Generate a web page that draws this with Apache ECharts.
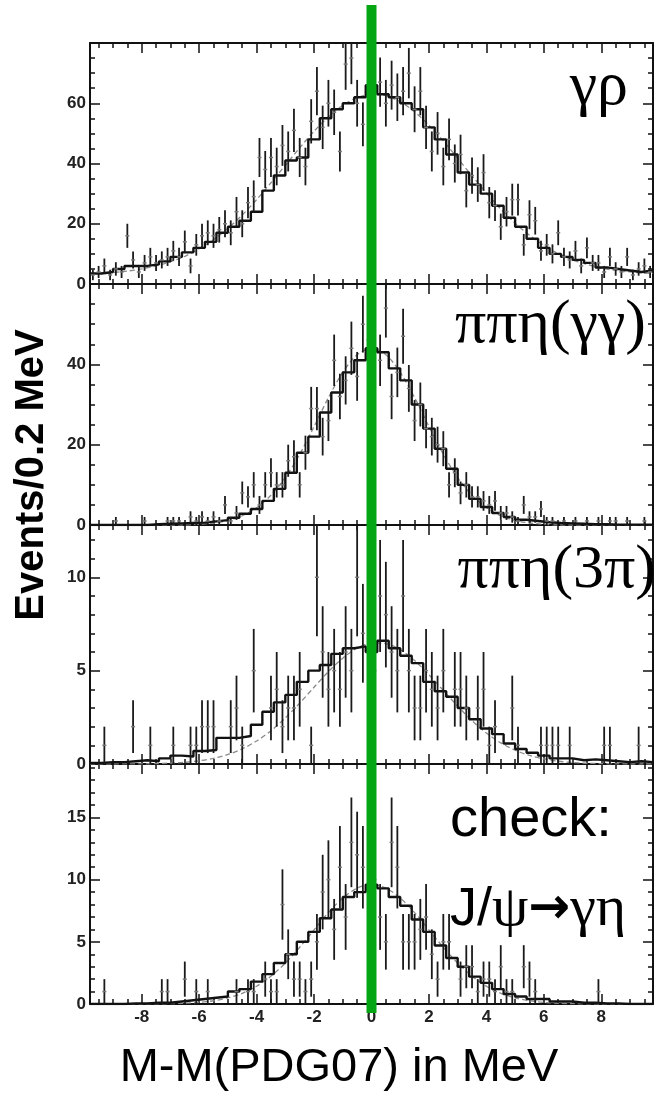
<!DOCTYPE html>
<html>
<head>
<meta charset="utf-8">
<title>M-M(PDG07) in MeV</title>
<script src="https://cdn.jsdelivr.net/npm/echarts@6/dist/echarts.min.js"></script>
<style>
  html, body { margin: 0; padding: 0; background: #fff; }
  #chart { width: 654px; height: 1095px; }
</style>
</head>
<body>
<div id="chart"></div>
<script>
// x range shared by the four panels (MeV)
const xMin = -9.8, xMax = 9.8;
// data: 0.2 MeV bins, histogram: 0.4 MeV bins, both starting at -9.8
const dataBinStart = -9.8, dataBinWidth = 0.2;
const histBinStart = -9.8, histBinWidth = 0.4;

const xTickLabels = [-8, -6, -4, -2, 0, 2, 4, 6, 8];
const xMinorTicks = [-9.5, -9, -8.5, -7.5, -7, -6.5, -5.5, -5, -4.5, -3.5, -3, -2.5, -1.5, -1, -0.5,
                     0.5, 1, 1.5, 2.5, 3, 3.5, 4.5, 5, 5.5, 6.5, 7, 7.5, 8.5, 9, 9.5];

// y axes, one entry per panel (top to bottom)
const yMaxes = [80, 60, 12.8, 19.3];
const yTickLabels = [[0, 20, 40, 60], [0, 20, 40], [0, 5, 10], [0, 5, 10, 15]];
const yMajorTicks = [[20, 40, 60], [20, 40], [5, 10], [5, 10, 15]];
const yMinorTicks = [
  [5, 10, 15, 25, 30, 35, 45, 50, 55, 65, 70, 75],
  [5, 10, 15, 25, 30, 35, 45, 50, 55],
  [1, 2, 3, 4, 6, 7, 8, 9, 11, 12],
  [1, 2, 3, 4, 6, 7, 8, 9, 11, 12, 13, 14, 16, 17, 18, 19]
];

// events per 0.2 MeV bin, centres -9.7 ... 9.7
const dataGammaRho = [3,4,6,3,5,4,16,8,4,7, 9,7,8,9,11,9,14,6,13,16, 17,16,18,20,17,24,20,27,29,42,
  38,42,39,46,44,51,42,39,54,64, 52,60,57,44,73,75,60,53,66,63, 67,60,66,62,64,70,58,64,52,44,
  50,39,48,40,43,31,36,33,37,27, 26,19,24,28,28,13,23,21,11,13, 10,17,9,8,11,6,12,7,7,4, 9,5,4,9,3,5,6,4];
const dataEtaGG = [0,0,0,0,1,0,0,0,0,1, 0,0,0,1,1,1,0,2,1,2, 1,2,1,5,1,3,8,7,10,5,
  10,13,10,10,16,17,10,18,29,29, 22,26,41,32,36,44,37,50,46,44, 41,54,32,38,47,34,26,30,24,22,
  20,19,10,13,8,10,7,7,6,5, 6,3,3,2,1,5,2,2,4,1, 1,0,1,0,1,0,1,0,1,0, 1,1,0,1,0,0,1,0];
const dataEta3Pi = [0,0,1,0,0,0,0,2,0,0, 1,0,0,0,1,0,0,1,1,2, 2,2,0,0,2,3,1,0,5,0,
  0,3,4,2,3,3,4,0,1,10, 6,4,5,4,6,5,10,7,6,5, 9,8,6,5,9,5,3,3,5,4,
  3,5,0,4,4,3,0,3,4,1, 2,0,0,3,1,0,0,0,1,1, 1,1,0,1,0,0,0,0,0,1, 1,0,0,0,0,1,0,0];
const dataJpsi = [0,0,1,0,0,0,0,0,0,0, 0,0,1,1,0,0,2,0,1,0, 1,0,0,0,0,1,0,1,1,0,
  2,1,1,8,4,2,2,1,2,5, 9,10,6,11,7,13,12,11,9,10, 7,5,13,11,5,5,5,6,7,4,
  2,5,5,0,2,3,3,1,2,2, 1,3,1,1,0,3,2,1,0,0, 0,0,0,0,0,0,0,0,1,0, 0,0,0,0,0,0,0,0];

// MC histogram per 0.4 MeV bin, centres -9.6 ... 9.6
const histGammaRho = [3.5,4,5,6,6,6.5,7.5,9,10.5,12,14,17,19,21,24,31,36,41,42,48,55,58,60,62,66,
  63,62,60,58,52,48,43,37,33,30,26,22,19,15,12,10,9,8,7,5.5,5,4.5,4,4.5];
const histEtaGG = [0,0,0,0,0,0.2,0.3,0.4,0.5,0.6,0.9,1.2,1.8,2.8,4,6,9,13,18,22,28,33,38,41,44,
  43,39,36,30,24,19,14,10,6.5,4.5,3,2,1.3,1,0.7,0.5,0.4,0.3,0.2,0.2,0.1,0.1,0.1,0.1];
const histEta3Pi = [0.05,0.1,0.1,0.15,0.2,0.15,0.3,0.45,0.4,0.7,0.75,1.4,1.4,1.5,2.1,2.8,3.3,3.7,4.4,5.0,
  5.3,5.9,6.2,6.3,6.0,6.6,6.2,5.8,5.4,4.4,3.9,3.6,3.0,2.4,1.9,1.6,1.1,0.8,0.6,0.45,
  0.3,0.3,0.2,0.25,0.2,0.15,0.1,0.15,0.1];
const histJpsi = [0,0,0,0.05,0.05,0.1,0.1,0.2,0.3,0.4,0.5,0.6,1.0,1.2,1.8,2.4,3.3,4.0,5.0,5.8,
  6.9,7.6,8.6,9.0,9.6,9.3,8.6,7.9,6.8,5.8,4.7,3.7,3.0,2.2,1.7,1.2,0.8,0.6,0.4,0.4,
  0.2,0.2,0.1,0.1,0.05,0.05,0,0,0];

// fitted curve, sampled at fitX
const fitX = [-9.8,-9.5,-9,-8.5,-8,-7.5,-7,-6.5,-6,-5.5,-5,-4.5,-4,-3.5,-3,-2.5,-2,-1.5,-1,-0.5,0,
  0.5,1,1.5,2,2.5,3,3.5,4,4.5,5,5.5,6,6.5,7,7.5,8,8.5,9,9.5,9.8];
const fitGammaRho = [3.4,3.5,3.8,4.3,5.0,6.0,7.4,9.2,11.7,14.7,18.5,22.9,28.0,33.6,39.4,45.2,50.7,55.5,59.3,61.9,63.0,
  62.5,60.5,57.2,52.7,47.5,41.7,35.9,30.2,24.9,20.2,16.2,12.8,10.1,8.0,6.5,5.3,4.5,4.0,3.6,3.5];
const fitEtaGG = [0,0,0,0,0,0,0,0,0.2,0.5,1.1,2.3,4.3,7.4,11.8,17.6,24.5,31.7,38.0,42.4,44,
  42.4,38.0,31.7,24.5,17.6,11.8,7.4,4.3,2.3,1.1,0.5,0.2,0,0,0,0,0,0,0,0];
const fitEta3Pi = [0,0,0,0.01,0.01,0.02,0.05,0.09,0.17,0.30,0.51,0.81,1.23,1.78,2.47,3.26,4.11,4.95,5.67,6.21,6.48,
  6.45,6.12,5.54,4.78,3.94,3.10,2.32,1.66,1.13,0.74,0.46,0.27,0.15,0.08,0.04,0.02,0.01,0,0,0];
const fitJpsi = [0,0,0,0,0,0.01,0.03,0.06,0.13,0.26,0.49,0.86,1.43,2.24,3.29,4.56,5.96,7.35,8.52,9.32,9.6,
  9.32,8.52,7.35,5.96,4.56,3.29,2.24,1.43,0.86,0.49,0.26,0.13,0.06,0.03,0.01,0,0,0,0,0];

const panelData = [dataGammaRho, dataEtaGG, dataEta3Pi, dataJpsi];
const panelHist = [histGammaRho, histEtaGG, histEta3Pi, histJpsi];
const panelFit = [fitGammaRho, fitEtaGG, fitEta3Pi, fitJpsi];

// layout
const panelTop = [43, 284, 525, 764];
const panelHeight = [241, 241, 239, 240];
const ink = '#111';
const tickFont = { fontFamily: 'Liberation Sans', fontWeight: 'bold', fontSize: 17, color: '#222' };

function makeX(p, position, ticks, len, withLine, labels) {
  return {
    type: 'value', gridIndex: p, position: position, min: xMin, max: xMax,
    axisLine: { show: withLine, onZero: false, lineStyle: { color: ink, width: 2 } },
    axisTick: { show: true, inside: true, length: len, customValues: ticks, lineStyle: { color: ink, width: 1.5 } },
    axisLabel: labels ? Object.assign({ show: true, customValues: labels, margin: 5 }, tickFont) : { show: false },
    splitLine: { show: false }
  };
}
function makeY(p, position, ticks, len, withLine, labels) {
  return {
    type: 'value', gridIndex: p, position: position, min: 0, max: yMaxes[p],
    axisLine: { show: withLine, onZero: false, lineStyle: { color: ink, width: 2 } },
    axisTick: { show: true, inside: true, length: len, customValues: ticks, lineStyle: { color: ink, width: 1.5 } },
    axisLabel: labels ? Object.assign({ show: true, customValues: labels, margin: 4 }, tickFont) : { show: false },
    splitLine: { show: false }
  };
}

function renderPoint(params, api) {
  const x = api.value(0), y = api.value(1), e = api.value(2);
  const c = api.coord([x, y]);
  const top = api.coord([x, y + e]);
  const bot = api.coord([x, Math.max(0, y - e)]);
  const hw = api.coord([x + 0.07, y])[0] - c[0];
  return {
    type: 'group',
    children: [
      { type: 'line', shape: { x1: c[0], y1: top[1], x2: c[0], y2: bot[1] }, style: { stroke: '#1a1a1a', lineWidth: 1.8 } },
      { type: 'line', shape: { x1: c[0] - hw, y1: c[1], x2: c[0] + hw, y2: c[1] }, style: { stroke: '#777', lineWidth: 1.5 } }
    ]
  };
}

const grids = [], xAxes = [], yAxes = [], series = [];
for (let p = 0; p < 4; p++) {
  grids.push({ left: 90, right: 1, top: panelTop[p], height: panelHeight[p], containLabel: false, outerBoundsMode: 'none' });
  const last = p === 3;
  xAxes.push(makeX(p, 'bottom', xTickLabels, 10, true, last ? xTickLabels : null));
  xAxes.push(makeX(p, 'bottom', xMinorTicks, 5, false, null));
  xAxes.push(makeX(p, 'top', xTickLabels, 10, true, null));
  xAxes.push(makeX(p, 'top', xMinorTicks, 5, false, null));
  yAxes.push(makeY(p, 'left', yMajorTicks[p], 10, true, yTickLabels[p]));
  yAxes.push(makeY(p, 'left', yMinorTicks[p], 5, false, null));
  yAxes.push(makeY(p, 'right', yMajorTicks[p], 10, true, null));
  yAxes.push(makeY(p, 'right', yMinorTicks[p], 5, false, null));

  const ax = p * 4;
  series.push({
    type: 'line', xAxisIndex: ax, yAxisIndex: ax, smooth: 0.3, symbol: 'none', z: 2,
    lineStyle: { color: '#8a8a8a', width: 1.3, type: [5, 3] },
    data: fitX.map((x, i) => [x, panelFit[p][i]])
  });
  const h = panelHist[p];
  const histPts = h.map((v, i) => [histBinStart + i * histBinWidth, v]);
  histPts.push([xMax, h[h.length - 1]]);
  series.push({
    type: 'line', xAxisIndex: ax, yAxisIndex: ax, step: 'end', symbol: 'none', z: 3,
    lineStyle: { color: ink, width: 2.4 }, data: histPts
  });
  const pts = [];
  panelData[p].forEach((n, i) => {
    if (n > 0) pts.push([dataBinStart + (i + 0.5) * dataBinWidth, n, Math.sqrt(n)]); // Poisson error bars
  });
  series.push({
    type: 'custom', xAxisIndex: ax, yAxisIndex: ax, clip: true, z: 4,
    renderItem: renderPoint, encode: { x: 0, y: 1 }, data: pts
  });
}

function label(text, x, y, size, family, align) {
  return {
    type: 'text', x: x, y: y, z: 50,
    style: { text: text, font: size + 'px ' + family, fill: '#000', align: align, verticalAlign: 'middle',
             textAlign: align, textVerticalAlign: 'middle' }
  };
}
const serif = '"Liberation Serif", "DejaVu Serif", serif';
const sans = '"Liberation Sans", Arial, sans-serif';

const chart = echarts.init(document.getElementById('chart'));
chart.setOption({
  animation: false,
  backgroundColor: '#fff',
  grid: grids, xAxis: xAxes, yAxis: yAxes, series: series
});

// green marker at M = M(PDG07), placed with the axis scale
const x0 = chart.convertToPixel({ gridIndex: 0 }, [0, 0])[0];
chart.setOption({
  graphic: [
    { type: 'rect', z: 40, shape: { x: x0 - 5, y: 5, width: 10, height: 1008 }, style: { fill: '#04a614' } },
    label('γρ', 628, 88, 62, serif, 'right'),
    label('ππη(γγ)', 646, 326, 62, serif, 'right'),
    label('ππη(3π)', 656, 571, 62, serif, 'right'),
    label('check:', 450, 821, 56, sans, 'left'),
    {
      type: 'text', x: 450, y: 910, z: 50,
      style: {
        text: '{a|J/}{b|ψ}{c|→}{b|γη}', verticalAlign: 'middle', textVerticalAlign: 'middle', fill: '#000',
        rich: {
          a: { font: '54px ' + sans, fill: '#000' },
          b: { font: '58px ' + serif, fill: '#000' },
          c: { font: 'bold 50px "DejaVu Sans", sans-serif', fill: '#000' }
        }
      }
    },
    {
      type: 'text', x: 32, y: 475, rotation: Math.PI / 2, z: 50,
      style: { text: 'Events/0.2 MeV', font: 'bold 40px ' + sans, fill: '#000',
               align: 'center', verticalAlign: 'middle', textAlign: 'center', textVerticalAlign: 'middle' }
    },
    {
      type: 'text', x: 339, y: 1068, z: 50,
      style: { text: 'M-M(PDG07) in MeV', font: '47px ' + sans, fill: '#000',
               align: 'center', verticalAlign: 'middle', textAlign: 'center', textVerticalAlign: 'middle' }
    }
  ]
});
</script>
</body>
</html>
